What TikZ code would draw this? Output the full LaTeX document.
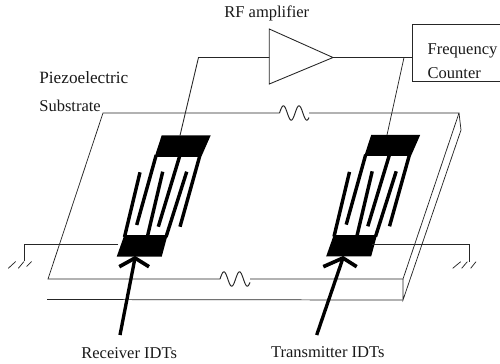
\documentclass[tikz,border=0pt]{standalone}
\usepackage{fontspec}
\setmainfont{Liberation Serif}
\tikzset{
  wire/.style={line width=0.42pt,black!85},
  finger/.style={line width=1.95pt,line cap=butt,black},
  pointer/.style={line width=1.9pt,line cap=butt,black},
  barb/.style={line width=2.1pt,line cap=butt,black,line join=miter},
  lbl/.style={anchor=base west,inner sep=0pt,font=\fontsize{9.4pt}{11pt}\selectfont,black!90},
  idt/.pic={
    \fill (161.7,135.3) -- (210.7,135.3) -- (201.7,155.8) -- (155,155.8) -- cycle;
    \fill (124,236) -- (167.3,236) -- (161.7,256.7) -- (116.7,256.7) -- cycle;
    \draw[finger] (156.2,155) -- (136.7,225);
    \draw[finger] (180,155) -- (158.3,226.7);
    \draw[finger] (200,155) -- (180,226.7);
    \draw[finger] (124.5,237) -- (140,172.3);
    \draw[finger] (147.3,237) -- (162.7,171.7);
    \draw[finger] (166,237) -- (186.7,171.7);
    \draw[line width=0.7pt] (155,156.2) -- (200,156.2);
    \draw[line width=0.7pt] (124,235.6) -- (167,235.6);
  }
}
\begin{document}
\begin{tikzpicture}[x=0.02cm,y=-0.02cm]
\useasboundingbox (0,0) rectangle (500,363);
% plate corners
\coordinate (tl) at (103,113);
\coordinate (tr) at (459,113);
\coordinate (bl) at (48,279);
\coordinate (br) at (403,279);
\coordinate (fl) at (47,299.5);
\coordinate (fr) at (403,300);
\coordinate (rt) at (461,130);
\coordinate (wa) at (279.5,113);
\coordinate (wb) at (309,113);
\coordinate (wc) at (220,279);
\coordinate (wd) at (250,279);
\draw[wire] (wa) -- (tl) -- (bl) -- (wc);
\draw[wire] (wb) -- (tr) -- (br) -- (wd);
\draw[wire] (tr) -- (rt) -- (fr) -- (br);
\draw[wire] (fl) -- (fr);
% signals on the plate
\draw[wire,line width=0.55pt] plot[domain=0:29.5,samples=50,smooth] ({279.5+\x},{113-7.2*sin(\x*360/15.6)});
\draw[wire,line width=0.55pt] plot[domain=0:30,samples=50,smooth] ({220+\x},{279-7.2*sin(\x*360/15.6)});
% IDTs
\pic at (0,0) {idt};
\pic at (209.5,-0.4) {idt};
% amplifier and counter
\coordinate (a1) at (269.3,29);
\coordinate (a2) at (269.3,84);
\coordinate (a3) at (333,57.5);
\coordinate (ain) at (269.3,57.5);
\draw[wire,line width=0.5pt] (a1) -- (a3) -- (a2) -- cycle;
\coordinate (c1) at (499.5,24.3);
\coordinate (c2) at (412.7,24.3);
\coordinate (c3) at (412.7,81);
\coordinate (c4) at (499.5,81);
\coordinate (cin) at (412.7,57.5);
\draw[wire,line width=0.5pt] (c1) -- (c2) -- (c3) -- (c4);
% wiring
\coordinate (lp) at (180,135.5);
\coordinate (lc) at (198.5,57.5);
\coordinate (rp) at (387,135);
\coordinate (rc) at (404,57.5);
\draw[wire,line width=0.5pt] (lp) -- (lc) -- (ain);
\draw[wire,line width=0.5pt] (a3) -- (cin);
\draw[wire] (rp) -- (rc);
% grounds
\coordinate (lg0) at (118,244.3);
\coordinate (lg1) at (24.3,244.3);
\coordinate (lg2) at (24.3,261);
\coordinate (rg0) at (372,244.3);
\coordinate (rg1) at (469.3,244.3);
\coordinate (rg2) at (469.3,261.7);
\draw[wire,line width=0.5pt] (lg0) -- (lg1) -- (lg2);
\draw[wire,line width=0.5pt] (rg0) -- (rg1) -- (rg2);
\draw[wire] (8.3,268.3) -- (15.7,261.5) (18.3,268.3) -- (24,261.5) (26.7,266.5) -- (31.7,261.5);
\draw[wire] (452.7,268.3) -- (460.7,261.7) (461.7,268.3) -- (467.3,261.7) (470.7,268.3) -- (476,261.7);
% pointers
\coordinate (lt) at (135,258);
\coordinate (rtip) at (343,258);
\draw[pointer] (120,335) -- (lt);
\draw[barb] (119.3,266.7) -- (lt) -- (149,266.7);
\draw[pointer] (316.7,335) -- (rtip);
\draw[barb] (323.3,266.7) -- (rtip) -- (356.7,266.7);
% labels
\node[lbl] (rf) at (224,17.5) {RF amplifier};
\node[lbl] (freq) at (427.3,54) {Frequency};
\node[lbl] (cnt) at (427.3,78) {Counter};
\node[lbl,font=\fontsize{9.8pt}{11pt}\selectfont] (pz) at (39,83) {Piezoelectric};
\node[lbl] (sub) at (39,111) {Substrate};
\node[lbl] (rx) at (81,358) {Receiver IDTs};
\node[lbl] (tx) at (270.7,357.5) {Transmitter IDTs};
\end{tikzpicture}
\end{document}
